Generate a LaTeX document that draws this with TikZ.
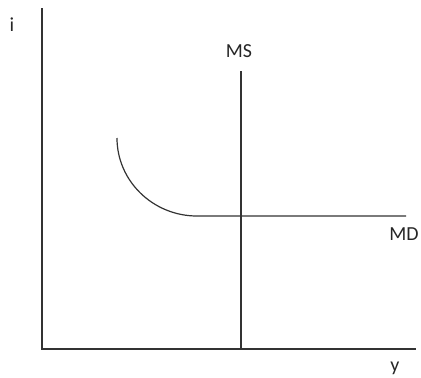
\documentclass[tikz,border=0pt]{standalone}
\usepackage{fontspec}
\setmainfont{Carlito}
\begin{document}
\begin{tikzpicture}[x=1bp,y=-1bp,
    curve/.style={line width=1.2bp,black!80},
    lbl/.style={font=\fontsize{20}{24}\selectfont,text=black!85,inner sep=0pt}]
  \useasboundingbox (0,0) rectangle (421,378);
  % axes
  \coordinate (top) at (42,8);
  \coordinate (origin) at (42,349);
  \coordinate (right) at (416,349);
  \draw[curve] (top) -- (origin) -- (right);
  \node[lbl] (ilabel) at (12,25) {i};
  \node[lbl] (ylabel) at (395,368) {y};
  % money supply
  \coordinate (mstop) at (241,71);
  \coordinate (msbot) at (241,349);
  \draw[curve] (mstop) -- (msbot);
  \node[lbl] (mslabel) at (239,51) {MS};
  % money demand
  \coordinate (mdstart) at (117,138);
  \coordinate (mdkink) at (197,216);
  \coordinate (mdend) at (406,216);
  \draw[curve] (mdstart) .. controls (117,181) and (153,216) .. (mdkink) -- (mdend);
  \node[lbl] (mdlabel) at (404,234) {MD};
\end{tikzpicture}
\end{document}
